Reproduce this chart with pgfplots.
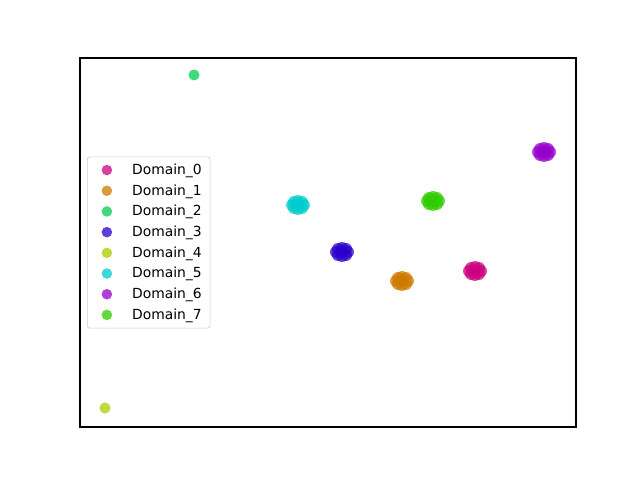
\documentclass[border=0pt]{standalone}
\usepackage{pgfplots}
\pgfplotsset{compat=1.18}
\usepackage{fontspec}
\setmainfont{DejaVu Sans}

\definecolor{d0}{HTML}{CC0080}
\definecolor{d1}{HTML}{CC7A00}
\definecolor{d2}{HTML}{00CC55}
\definecolor{d3}{HTML}{2B00CC}
\definecolor{d4}{HTML}{AACC00}
\definecolor{d5}{HTML}{00CCCC}
\definecolor{d6}{HTML}{9900CC}
\definecolor{d7}{HTML}{2ECC00}

\begin{document}
\begin{tikzpicture}
\useasboundingbox (-57.6pt,-38.16pt) rectangle (403.2pt,307.44pt);
\begin{axis}[
  at={(0,0)}, anchor=south west,
  scale only axis, width=357.12pt, height=265.68pt,
  xmin=80, xmax=576, ymin=53, ymax=422,
  xtick=\empty, ytick=\empty,
  axis line style={line width=0.8pt},
  legend cell align=left,
  legend style={at={(0.014,0.5)}, anchor=west, draw=black!20, rounded corners=2pt,
    fill=white, fill opacity=0.8, text opacity=1,
    font=\fontsize{10}{12}\selectfont, row sep=1.8pt,
    inner xsep=4pt, inner ysep=3pt},
  legend image code/.code={%
    \path (-0.35cm,0cm) (0.56cm,0cm);
    \draw[mark size=3.8pt] plot coordinates {(0cm,0cm)};},
  every axis plot/.append style={only marks, mark=*, mark size=4.32pt,
    mark options={draw opacity=0, fill opacity=0.75}},
]
% clusters: (x, y) in pixel-like units, y measured from the bottom
\addplot[d0, fill=d0] coordinates {(475,209) (469,209) (481,209) (475,205) (475,213) (471,206) (479,206) (471,212) (479,212)};
\addlegendentry{Domain\_0}
\addplot[d1, fill=d1] coordinates {(402,199) (396,199) (408,199) (402,195) (402,203) (398,196) (406,196) (398,202) (406,202)};
\addlegendentry{Domain\_1}
\addplot[d2, fill=d2, mark size=4pt] coordinates {(194,405)};
\addlegendentry{Domain\_2}
\addplot[d3, fill=d3] coordinates {(342,228) (336,228) (348,228) (342,224) (342,232) (338,225) (346,225) (338,231) (346,231)};
\addlegendentry{Domain\_3}
\addplot[d4, fill=d4, mark size=4pt] coordinates {(105,72)};
\addlegendentry{Domain\_4}
\addplot[d5, fill=d5] coordinates {(298,275) (292,275) (304,275) (298,271) (298,279) (294,272) (302,272) (294,278) (302,278)};
\addlegendentry{Domain\_5}
\addplot[d6, fill=d6] coordinates {(544,328) (538,328) (550,328) (544,324) (544,332) (540,325) (548,325) (540,331) (548,331)};
\addlegendentry{Domain\_6}
\addplot[d7, fill=d7] coordinates {(433,279) (427,279) (439,279) (433,275) (433,283) (429,276) (437,276) (429,282) (437,282)};
\addlegendentry{Domain\_7}
\end{axis}
\end{tikzpicture}
\end{document}
